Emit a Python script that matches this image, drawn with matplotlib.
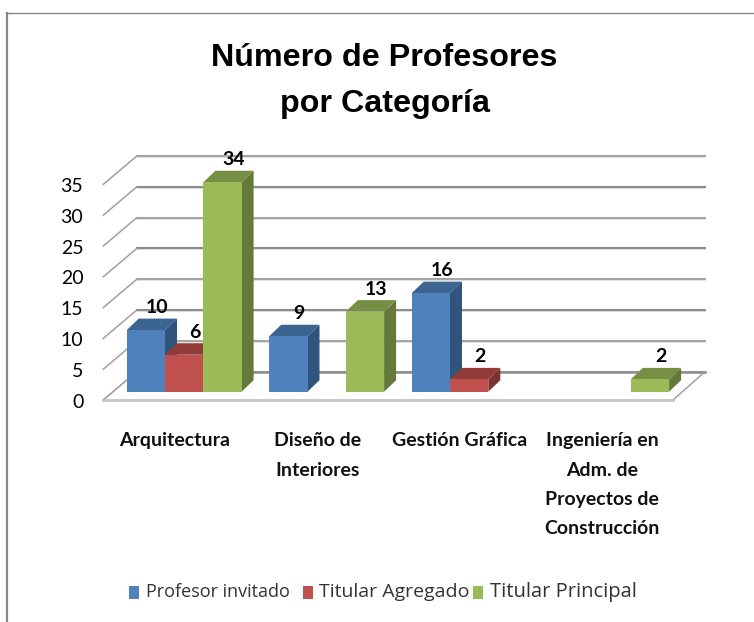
import matplotlib
matplotlib.use("Agg")
import matplotlib.pyplot as plt
from matplotlib.lines import Line2D
from matplotlib.patches import Polygon, Rectangle

categories = ["Arquitectura", "Diseño de\nInteriores", "Gestión Gráfica",
              "Ingeniería en\nAdm. de\nProyectos de\nConstrucción"]
profesor_invitado = [10, 9, 16, 0]
titular_agregado = [6, 0, 2, 0]
titular_principal = [34, 13, 0, 2]
series_names = ["Profesor invitado", "Titular Agregado", "Titular Principal"]
y_ticks = [0, 5, 10, 15, 20, 25, 30, 35]

W, H = 754, 622
PXX, PXY = 142.5, 6.16      # pixels per category / per value
X0, Y0 = 126.7, 391.7       # pixel position of category 0 / value 0
BAR = 38.3 / PXX
DDX, DDY = 12 / PXX, 11.5 / PXY   # bar depth

FACES = [("#4F81BD", "#3B6491", "#31547C"),
         ("#C0504D", "#923C3A", "#7C3230"),
         ("#9BBB59", "#778F45", "#64793A")]
LABEL_FONT = ["Lato", "DejaVu Sans"]
TITLE_FONT = ["Liberation Sans", "DejaVu Sans"]

fig = plt.figure(figsize=(W / 100, H / 100), dpi=100, facecolor="white")
ax = fig.add_axes([0, 0, 1, 1])
ax.set_xlim(-X0 / PXX, (W - X0) / PXX)
ax.set_ylim((Y0 - H) / PXY, Y0 / PXY)
ax.axis("off")

def dx(p):
    return p / PXX
def dy(p):
    return p / PXY

WALL_L, WALL_R, WALL_B = dx(10), dx(578.3), dy(20)
FRONT_L, FRONT_R, FRONT_B = dx(-23.4), dx(546.3), dy(-8.3)

for v in y_ticks:
    grey = "#a6a6a6" if v % 10 else "#8c8c8c"
    ax.plot([WALL_L, WALL_R], [v + WALL_B - dy(1)] * 2, color="#dddddd", lw=1.2, zorder=1)
    ax.plot([WALL_L, WALL_R], [v + WALL_B] * 2, color=grey, lw=1.5, zorder=1.1)
    ax.plot([FRONT_L, WALL_L], [v + FRONT_B, v + WALL_B], color="#a0a0a0", lw=1.1, zorder=1.1)

ax.add_patch(Polygon([(FRONT_L, FRONT_B), (FRONT_R, FRONT_B), (WALL_R, WALL_B), (WALL_L, WALL_B)],
                     closed=True, fc="white", ec="none", zorder=1.2))
ax.plot([WALL_L, WALL_R], [WALL_B, WALL_B], color="#8c8c8c", lw=1.8, zorder=1.3)
ax.plot([FRONT_L, WALL_L], [FRONT_B, WALL_B], color="#a0a0a0", lw=1.1, zorder=1.3)
ax.plot([FRONT_R, WALL_R], [FRONT_B, WALL_B], color="#a0a0a0", lw=1.1, zorder=1.3)
ax.plot([FRONT_L, FRONT_R], [FRONT_B, FRONT_B], color="#c4c4c4", lw=2.0, zorder=1.3)

values = [profesor_invitado, titular_agregado, titular_principal]
for k, vals in enumerate(values):
    front, top, side = FACES[k]
    for i, v in enumerate(vals):
        if v == 0:
            continue
        x = i + k * BAR
        z = 2 + i + k * 0.1
        ax.add_patch(Polygon([(x + BAR, 0), (x + BAR + DDX, DDY), (x + BAR + DDX, v + DDY), (x + BAR, v)],
                             closed=True, fc=side, ec="none", zorder=z))
        ax.add_patch(Polygon([(x, v), (x + BAR, v), (x + BAR + DDX, v + DDY), (x + DDX, v + DDY)],
                             closed=True, fc=top, ec="none", zorder=z))
        ax.add_patch(Rectangle((x, 0), BAR, v, fc=front, ec="none", zorder=z + 0.05))
        ax.text(x + BAR / 2 + DDX * 0.9, v + DDY + dy(2.5), str(v), ha="center", va="bottom",
                fontsize=14, fontweight="bold", family=LABEL_FONT, color="black", zorder=10)

for v in y_ticks:
    ax.text(FRONT_L - dx(20), v + FRONT_B - dy(2), str(v), ha="right", va="center",
            fontsize=14, family=LABEL_FONT, color="black")

for i, c in enumerate(categories):
    ax.text(i + dx(48), dy(-40.5), c, ha="center", va="top", fontsize=14, fontweight="bold",
            family=LABEL_FONT, color="#111111", linespacing=1.88)

ax.text(dx(258), dy(311), "Número de Profesores\npor Categoría", ha="center", va="center",
        fontsize=23.2, fontweight="bold", family=TITLE_FONT, color="black", linespacing=1.68)

# legend
leg_px = [129, 303, 473]
txt_px = [146, 319, 490]
txt_size = [13, 14, 14.5]
for k, name in enumerate(series_names):
    ax.add_patch(Rectangle((dx(leg_px[k] - X0), dy(Y0 - 599)), dx(10), dy(13), fc=FACES[k][0], ec="none"))
    ax.text(dx(txt_px[k] - X0), dy(Y0 - 592), name, ha="left", va="center", fontsize=txt_size[k],
            family=["Open Sans", "DejaVu Sans"], color="#333333")

# chart frame: only the left and top edges fall inside the picture
fig.add_artist(Line2D([7 / W, 7 / W], [0, 1 - 13 / H], transform=fig.transFigure, color="#868686", lw=1.6))
fig.add_artist(Line2D([6 / W, 1], [1 - 13 / H, 1 - 13 / H], transform=fig.transFigure, color="#868686", lw=1.0))
fig.savefig("out.png", dpi=100)
